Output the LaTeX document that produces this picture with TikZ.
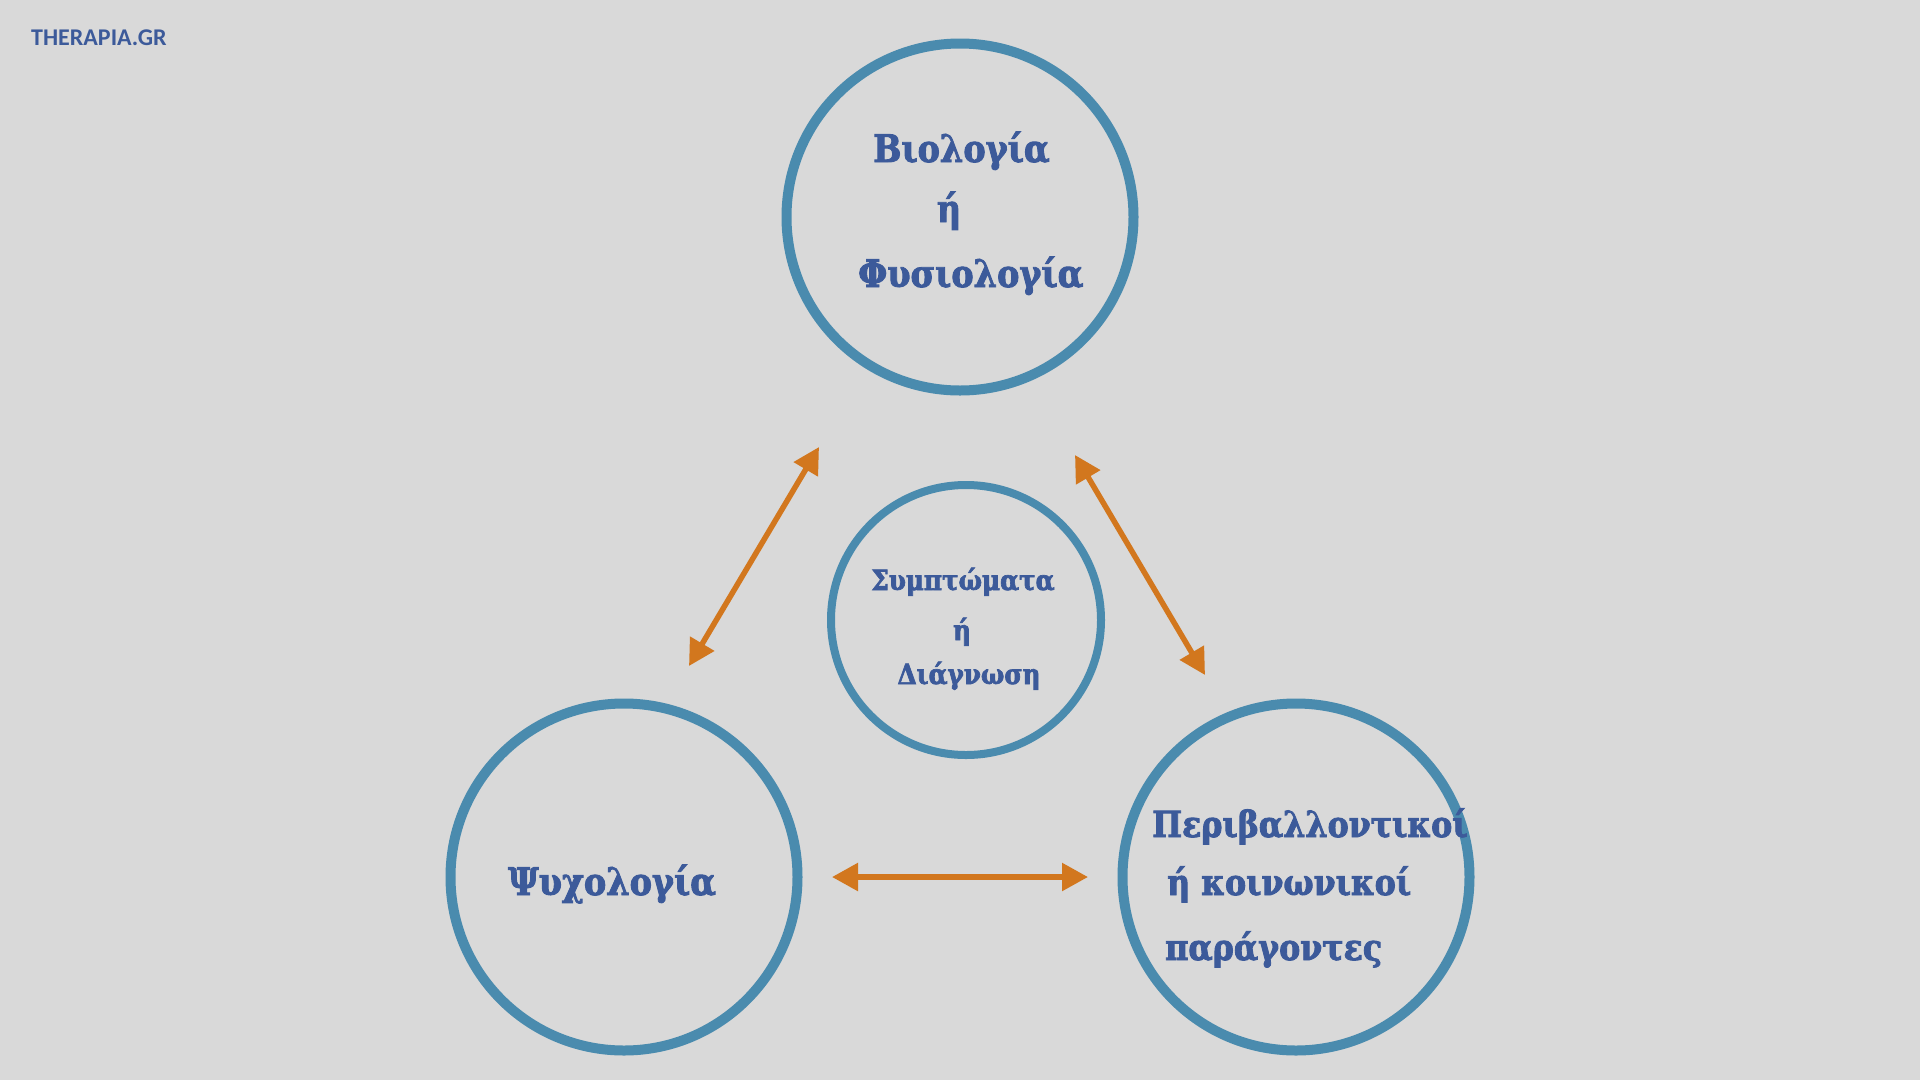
\documentclass[tikz,border=0pt]{standalone}
\usepackage{fontspec}
\setmainfont{DejaVu Serif}[BoldFeatures={FakeBold=2.4, FakeStretch=0.88}]
\newfontfamily\logofont{Carlito}
\usetikzlibrary{arrows.meta}
\definecolor{bg}{HTML}{D9D9D9}
\definecolor{ringblue}{HTML}{4A8BAE}
\definecolor{txtblue}{HTML}{3C5A9A}
\definecolor{arrorange}{HTML}{D2771E}
\tikzset{
  ring/.style={circle, draw=ringblue, line width=10pt, inner sep=0pt},
  lbl/.style={anchor=base west, inner sep=0pt, text=txtblue, font=\bfseries\fontsize{38pt}{45pt}\selectfont},
  lblc/.style={anchor=base, inner sep=0pt, text=txtblue, font=\bfseries\fontsize{38pt}{45pt}\selectfont},
  small/.style={font=\bfseries\fontsize{28pt}{33pt}\selectfont},
  envtxt/.style={font=\bfseries\fontsize{36pt}{43pt}\selectfont},
  link/.style={draw=arrorange, line width=5.5pt, {Triangle[length=26pt,width=27pt]}-{Triangle[length=26pt,width=27pt]}}
}
\begin{document}
\begin{tikzpicture}[x=1pt,y=-1pt]
\fill[bg] (0,0) rectangle (1920,1080);
\useasboundingbox (0,0) rectangle (1920,1080);
% logo
\node[anchor=base west, inner sep=0pt, text=txtblue, font=\logofont\bfseries\fontsize{24pt}{28pt}\selectfont] (logo) at (31,45) {THERAPIA.GR};
% circles
\node[ring, minimum size=347pt] (bio) at (960,217) {};
\node[ring, minimum size=270pt, line width=8pt] (sym) at (966,620) {};
\node[ring, minimum size=347pt] (psy) at (624,877) {};
\node[ring, minimum size=347pt] (env) at (1296,877) {};
% top texts
\node[lbl] (bio1) at (873,162) {Βιολογία};
\node[lblc] (bio2) at (949,222) {ή};
\node[lbl] (bio3) at (858,287) {Φυσιολογία};
% center texts
\node[lblc, small] (sym1) at (963,590) {Συμπτώματα};
\node[lblc, small] (sym2) at (962,640) {ή};
\node[lblc, small] (sym3) at (969,684) {Διάγνωση};
% left text
\node[lbl] (psy1) at (508,895) {Ψυχολογία};
% right texts
\node[lbl, envtxt] (env1) at (1152,837) {Περιβαλλοντικοί};
\node[lbl, envtxt] (env2) at (1167,895) {ή κοινωνικοί};
\node[lbl, envtxt] (env3) at (1165,960) {παράγοντες};
% arrows
\coordinate (a1s) at (819,447);
\coordinate (a1e) at (689,666);
\coordinate (a2s) at (1075,455);
\coordinate (a2e) at (1205,675);
\coordinate (a3s) at (832,877);
\coordinate (a3e) at (1088,877);
\draw[link] (a1s) -- (a1e);
\draw[link] (a2s) -- (a2e);
\draw[link] (a3s) -- (a3e);
\end{tikzpicture}
\end{document}
